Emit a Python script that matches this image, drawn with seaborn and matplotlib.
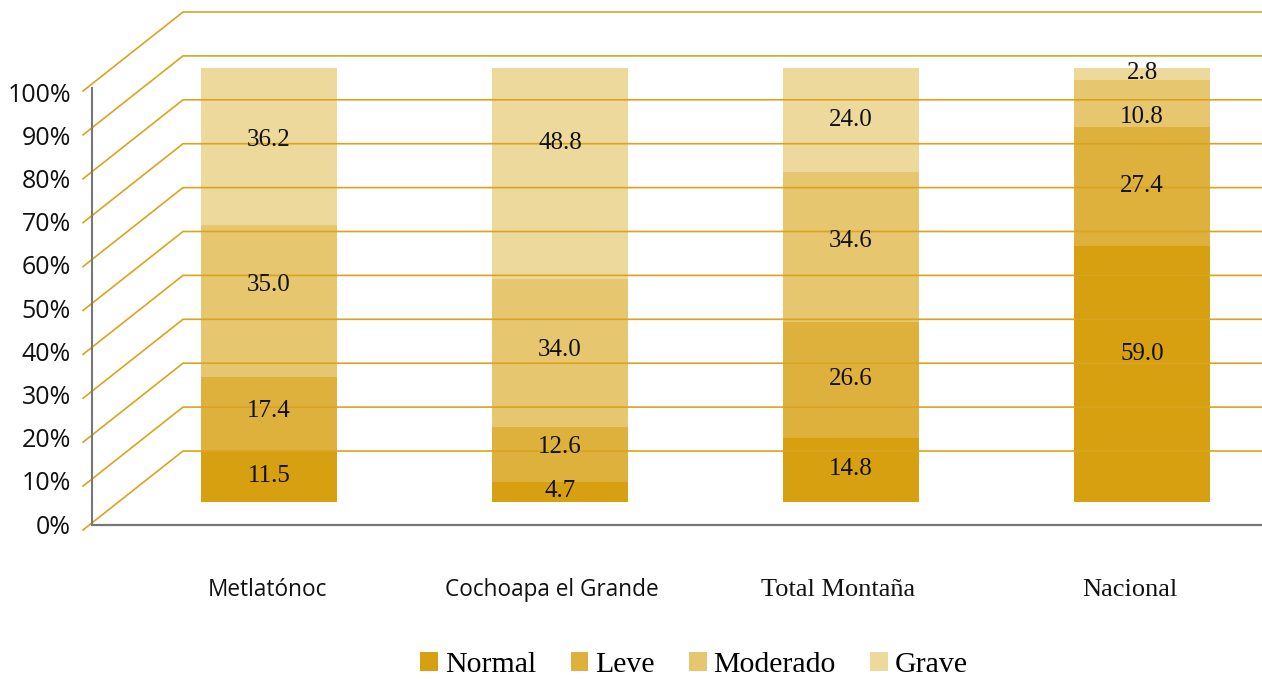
import matplotlib

matplotlib.use("Agg")
import matplotlib.pyplot as plt
from matplotlib.patches import Patch
import pandas as pd
import seaborn as sns

# Datos del gráfico
categorias = ["Metlatónoc", "Cochoapa el Grande", "Total Montaña", "Nacional"]
niveles = ["Normal", "Leve", "Moderado", "Grave"]
normal = [11.5, 4.7, 14.8, 59.0]
leve = [17.4, 12.6, 26.6, 27.4]
moderado = [35.0, 34.0, 34.6, 10.8]
grave = [36.2, 48.8, 24.0, 2.8]
ticks_y = [0, 10, 20, 30, 40, 50, 60, 70, 80, 90, 100]

colores = ["#D6A010", "#DEB03C", "#E6C66E", "#EED99C"]
color_grilla = "#D9A420"
color_eje = "#777777"

W, H = 1262, 679

# Conversión de pixeles a coordenadas de datos (ejes ocupan toda la figura)
X0, X_PASO = 269, 291      # centro de la primera barra y separación
Y0, Y_PASO = 502, 4.34     # base de las barras y pixeles por punto porcentual


def px_x(px):
    return (px - X0) / X_PASO


def px_y(py):
    return (Y0 - py) / Y_PASO


df = pd.DataFrame(
    {"categoria": categorias, "Normal": normal, "Leve": leve, "Moderado": moderado, "Grave": grave}
)
acum = df[niveles].cumsum(axis=1)

fig = plt.figure(figsize=(W / 100, H / 100), dpi=100)
ax = fig.add_axes([0, 0, 1, 1])

# Barras apiladas: se dibuja el acumulado desde arriba hacia abajo
for nivel, color in reversed(list(zip(niveles, colores))):
    sns.barplot(
        x=df["categoria"],
        y=acum[nivel],
        color=color,
        saturation=1,
        width=136 / X_PASO,
        ax=ax,
        zorder=1,
    )

ax.set_xlim(px_x(0), px_x(W))
ax.set_ylim(px_y(H), px_y(0))
ax.axis("off")

# Grilla en perspectiva (pared lateral + pared del fondo), encima de las barras
for t in ticks_y:
    y_fondo = 451 - 4.39 * t
    y_frente = y_fondo + 79
    ax.plot(
        [px_x(83), px_x(183), px_x(W)],
        [px_y(y_frente), px_y(y_fondo), px_y(y_fondo)],
        color=color_grilla,
        lw=1.2,
        zorder=2,
        solid_joinstyle="miter",
    )
    ax.text(
        px_x(71),
        px_y(527 - 4.32 * t),
        f"{t}%",
        ha="right",
        va="center",
        fontsize=18,
        family="Open Sans",
        color="#111111",
    )

# Ejes grises
ax.plot([px_x(92), px_x(92)], [px_y(88), px_y(525)], color=color_eje, lw=1.5, zorder=2)
ax.plot([px_x(92), px_x(W)], [px_y(525), px_y(525)], color=color_eje, lw=1.6, zorder=2)

# Etiquetas de valores (desplazamiento vertical en pixeles como en el original)
ajuste_px = [
    [-1, -3, -16, -6],
    [-1, -7, -3, -30],
    [-1, -1, -6, 0],
    [-20, 0, 13, -1],
]
for i in range(len(categorias)):
    for j, nivel in enumerate(niveles):
        valor = df.loc[i, nivel]
        centro = acum.loc[i, nivel] - valor / 2 - ajuste_px[i][j] / Y_PASO
        ax.text(
            i,
            centro,
            f"{valor:.1f}",
            ha="center",
            va="center",
            fontsize=18,
            family="Liberation Serif",
            color="#111111",
            zorder=3,
        )

# Etiquetas de categorías
pos_cat = [267, 552, 838, 1130]
fuentes_cat = [("Open Sans", 16.3), ("Open Sans", 16.3), ("Liberation Serif", 19), ("Liberation Serif", 19)]
for cat, px, (fam, tam) in zip(categorias, pos_cat, fuentes_cat):
    ax.text(px_x(px), px_y(590), cat, ha="center", va="center", fontsize=tam, family=fam, color="#111111")

# Leyenda
handles = [Patch(facecolor=c, edgecolor="none") for c in colores]
fig.legend(
    handles,
    niveles,
    loc="center",
    bbox_to_anchor=(694 / W, 1 - 665 / H),
    ncol=4,
    frameon=False,
    prop={"family": "Liberation Serif", "size": 21.5},
    handlelength=0.6,
    handleheight=0.6,
    handletextpad=0.22,
    columnspacing=1.15,
    borderpad=0,
)

fig.savefig("out.png", dpi=100)
